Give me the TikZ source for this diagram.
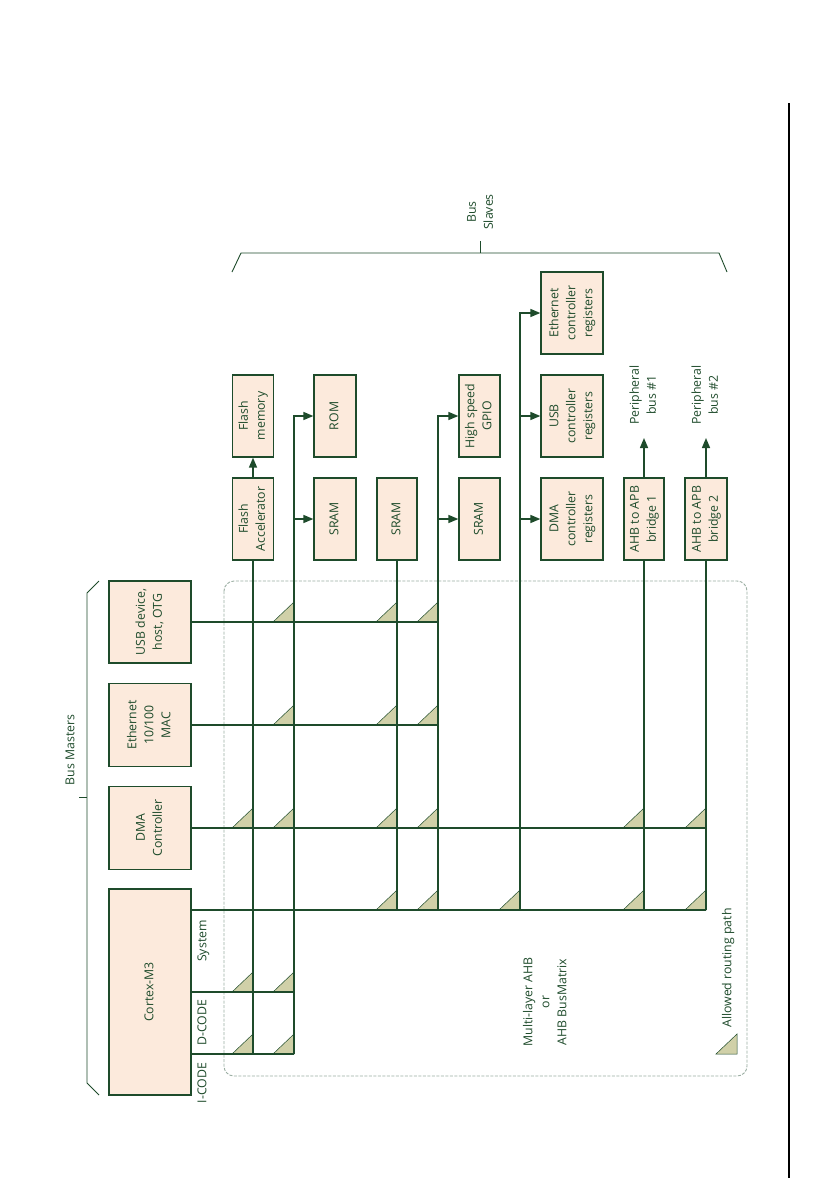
\documentclass[tikz,border=0pt]{standalone}
\usepackage{fontspec}
\setmainfont{Open Sans}
\usepackage{graphicx}
\usetikzlibrary{arrows.meta}
\definecolor{dg}{HTML}{1E4B2B}
\definecolor{boxfill}{HTML}{FCEADC}
\definecolor{trif}{HTML}{D0D0A8}
\definecolor{dashc}{HTML}{9AAEA2}
\newcommand\fs{\fontsize{12.3}{17}\selectfont}
\newcommand\rtxt[1]{\rotatebox{90}{\begin{tabular}{@{}c@{}}#1\end{tabular}}}
\begin{document}
\begin{tikzpicture}[x=1pt,y=-1pt,
  box/.style={draw=dg, fill=boxfill, line width=1.3pt, inner sep=0pt, text=dg, font=\fs},
  conn/.style={draw=dg, line width=1.5pt},
  arr/.style={conn, -{Triangle[length=10pt,width=8pt]}},
  routing/.style={fill=trif, draw=dg, line width=0.5pt},
  lbl/.style={text=dg, font=\fs, inner sep=0pt},
  brk/.style={draw=dg, line width=0.9pt},
  matrix area/.style={draw=dashc, line width=0.9pt, dash pattern=on 3pt off 1.5pt, rounded corners=10pt}]
\useasboundingbox (0,0) rectangle (834,1178);
\fill[white] (0,0) rectangle (834,1178);

% right page line
\draw[black, line width=1.3pt] (789,103) -- (789,1178);

% bus matrix area
\draw[matrix area] (224,581) rectangle (747,1076);

% masters
\node[box, minimum width=82, minimum height=82] (mUSB) at (150,622) {\rtxt{USB device,\\host, OTG}};
\node[box, minimum width=82, minimum height=83] (mETH) at (150,725) {\rtxt{Ethernet\\10/100\\MAC}};
\node[box, minimum width=82, minimum height=83] (mDMA) at (150,828) {\rtxt{DMA\\Controller}};
\node[box, minimum width=82, minimum height=206] (cm3) at (150,992) {\rtxt{Cortex-M3}};

% slaves
\node[box, minimum width=41, minimum height=82] (fm) at (253,416) {\rtxt{Flash\\memory}};
\node[box, minimum width=41, minimum height=82] (fa) at (253,519) {\rtxt{Flash\\Accelerator}};
\node[box, minimum width=42, minimum height=82] (rom) at (335,416) {\rtxt{ROM}};
\node[box, minimum width=42, minimum height=82] (sr1) at (335,519) {\rtxt{SRAM}};
\node[box, minimum width=40, minimum height=82] (sr2) at (397,519) {\rtxt{SRAM}};
\node[box, minimum width=41, minimum height=82] (gpio) at (479.5,416) {\rtxt{High speed\\GPIO}};
\node[box, minimum width=41, minimum height=82] (sr3) at (479.5,519) {\rtxt{SRAM}};
\node[box, minimum width=62, minimum height=82] (ethr) at (572,313) {\rtxt{Ethernet\\controller\\registers}};
\node[box, minimum width=62, minimum height=82] (usbr) at (572,416) {\rtxt{USB\\controller\\registers}};
\node[box, minimum width=62, minimum height=82] (dmar) at (572,519) {\rtxt{DMA\\controller\\registers}};
\node[box, minimum width=40, minimum height=82] (br1) at (644,519) {\rtxt{AHB to APB\\bridge 1}};
\node[box, minimum width=42, minimum height=82] (br2) at (706,519) {\rtxt{AHB to APB\\bridge 2}};

\node[lbl] (pb1) at (644,395) {\rtxt{Peripheral\\bus \#1}};
\node[lbl] (pb2) at (706,395) {\rtxt{Peripheral\\bus \#2}};
\coordinate (pb1a) at (644,438);
\coordinate (pb2a) at (706,438);

% grid coordinates
\coordinate (sysA) at (191,910);
\coordinate (dcA) at (191,992);
\coordinate (icA) at (191,1054);
\coordinate (icB) at (294,1054);
\coordinate (g0) at (438,910);
\coordinate (r0) at (520,910);

% routing triangles
\foreach \x/\y in {294/622,397/622,438/622,
                   294/725,397/725,438/725,
                   253/828,294/828,397/828,438/828,644/828,706/828,
                   397/910,438/910,520/910,644/910,706/910,
                   253/992,294/992,253/1054,294/1054}
  \filldraw[routing] (\x-21,\y) -- (\x,\y) -- (\x,\y-20) -- cycle;

% horizontal master buses
\draw[conn] (mUSB.east) -- (mUSB.east -| g0);
\draw[conn] (mETH.east) -- (mETH.east -| g0);
\draw[conn] (mDMA.east) -- (mDMA.east -| br2.south);
\draw[conn] (sysA) -- (sysA -| br2.south);
\draw[conn] (dcA) -- (dcA -| icB);
\draw[conn] (icA) -- (icB);

% vertical slave buses
\draw[conn] (fa.south) -- (fa.south |- icA);
\draw[arr] (fa.north) -- (fm.south);
\draw[arr] (icB) -- (icB |- rom.west) -- (rom.west);
\draw[arr] (icB |- sr1.west) -- (sr1.west);
\draw[conn] (sr2.south) -- (sr2.south |- sysA);
\draw[arr] (g0) -- (g0 |- gpio.west) -- (gpio.west);
\draw[arr] (g0 |- sr3.west) -- (sr3.west);
\draw[arr] (r0) -- (r0 |- ethr.west) -- (ethr.west);
\draw[arr] (r0 |- usbr.west) -- (usbr.west);
\draw[arr] (r0 |- dmar.west) -- (dmar.west);
\draw[conn] (br1.south) -- (br1.south |- sysA);
\draw[conn] (br2.south) -- (br2.south |- sysA);
\draw[arr] (br1.north) -- (pb1a);
\draw[arr] (br2.north) -- (pb2a);

% port labels
\node[lbl] (lsys) at (203,941) {\rtxt{System}};
\node[lbl] (ldc) at (203,1023) {\rtxt{D-CODE}};
\node[lbl] (lic) at (203,1083) {\rtxt{I-CODE}};

% matrix label
\node[lbl] (mx) at (546,1002) {\rtxt{Multi-layer AHB\\or\\AHB BusMatrix}};

% legend
\filldraw[routing] (716,1054) -- (737,1054) -- (737,1034) -- cycle;
\node[lbl] (leg) at (728,968) {\rtxt{Allowed routing path}};

% bus masters bracket
\draw[brk] (99,581) -- (87,593) -- (87,1083) -- (99,1095);
\draw[brk] (79,797) -- (87,797);
\node[lbl] (busm) at (71,750) {\rtxt{Bus Masters}};

% bus slaves bracket
\draw[brk] (232,272) -- (241,253) -- (719,253) -- (727,272);
\draw[brk] (480,241) -- (480,253);
\node[lbl] (buss) at (481,212) {\rtxt{Bus\\Slaves}};
\end{tikzpicture}
\end{document}
